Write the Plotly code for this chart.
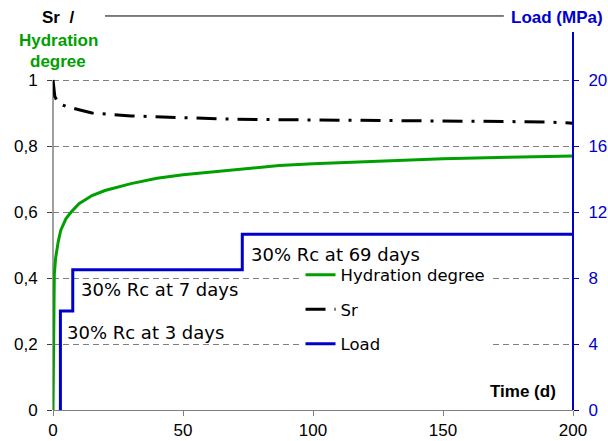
import plotly.graph_objects as go

# Time axis (days)
hyd_t = [0, 0.25, 0.5, 1, 2, 3, 5, 7, 10, 15, 20, 30, 40, 50, 65, 87, 100, 125, 150, 175, 200]
hyd_v = [0, 0.33, 0.41, 0.46, 0.51, 0.545, 0.58, 0.6, 0.625, 0.65, 0.665, 0.686, 0.702,
         0.713, 0.725, 0.741, 0.746, 0.754, 0.761, 0.766, 0.770]

sr_t = [0, 0.3, 0.7, 2, 5, 10, 15, 30, 50, 70, 100, 150, 190, 200]
sr_v = [1.0, 0.97, 0.95, 0.93, 0.92, 0.91, 0.90, 0.891, 0.885, 0.881, 0.879, 0.875, 0.873, 0.869]

# Applied load steps (MPa), each step at the given day
load_t = [2.85, 7.6, 72.8, 200]
load_v = [0, 6.0, 8.5, 10.65]

load_labels = ["30% Rc at 3 days", "30% Rc at 7 days", "30% Rc at 69 days"]
load_label_pos = [(4.8, 4.7), (9.9, 7.3), (75.4, 9.44)]

x_ticks = [0, 50, 100, 150, 200]
left_ticks = [0, 0.2, 0.4, 0.6, 0.8, 1.0]
right_ticks = [0, 4, 8, 12, 16, 20]

GREEN = "#00a000"
BLUE = "#0000cc"
GRAY = "#808080"

fig = go.Figure()

fig.add_trace(go.Scatter(
    x=hyd_t, y=hyd_v, mode="lines", name="Hydration degree",
    line=dict(color=GREEN, width=3), legendgroup="a", legendrank=1))
fig.add_trace(go.Scatter(
    x=sr_t, y=sr_v, mode="lines", name="Sr",
    line=dict(color="black", width=3, dash="20px,9px,3px,9px"),
    legendgroup="b", legendrank=2))
fig.add_trace(go.Scatter(
    x=load_t, y=load_v, mode="lines", name="Load", yaxis="y2",
    line=dict(color=BLUE, width=3, shape="vh"), legendgroup="c", legendrank=3))

annotations = []
for txt, (ax, ay) in zip(load_labels, load_label_pos):
    annotations.append(dict(
        x=ax, y=ay, xref="x", yref="y2", text=txt, showarrow=False,
        xanchor="left", yanchor="middle",
        font=dict(family="DejaVu Sans", size=18, color="black")))

title_font = dict(family="Liberation Sans", size=17)
annotations += [
    dict(x=0.0102, y=0.99, xref="paper", yref="paper", text="<b>Sr&nbsp;&nbsp;/</b>",
         showarrow=False, xanchor="center", yanchor="middle",
         font=dict(color="black", **title_font)),
    dict(x=0.0102, y=0.934, xref="paper", yref="paper", text="<b>Hydration</b>",
         showarrow=False, xanchor="center", yanchor="middle",
         font=dict(color=GREEN, **title_font)),
    dict(x=0.0102, y=0.8795, xref="paper", yref="paper", text="<b>degree</b>",
         showarrow=False, xanchor="center", yanchor="middle",
         font=dict(color=GREEN, **title_font)),
    dict(x=0.969, y=0.992, xref="paper", yref="paper", text="<b>Load (MPa)</b>",
         showarrow=False, xanchor="center", yanchor="middle",
         font=dict(color=BLUE, **title_font)),
    dict(x=0.904, y=0.046, xref="paper", yref="paper", text="<b>Time (d)</b>",
         showarrow=False, xanchor="center", yanchor="middle",
         font=dict(color="black", **title_font)),
]

shapes = [
    # top frame line between the axis titles
    dict(type="line", xref="paper", yref="paper", x0=0.1, x1=0.867, y0=0.995, y1=0.995,
         line=dict(color="black", width=1)),
    # left axis line (0 to 1)
    dict(type="line", xref="paper", yref="y", x0=0, x1=0, y0=0, y1=1.0,
         line=dict(color="#404040", width=1), layer="below"),
    # right axis line
    dict(type="line", xref="paper", yref="paper", x0=1, x1=1, y0=0, y1=0.9545,
         line=dict(color=BLUE, width=2)),
]

fig.update_layout(
    width=608, height=441,
    margin=dict(l=53, r=35, t=14, b=31, autoexpand=False),
    paper_bgcolor="white", plot_bgcolor="white",
    separators=", ",
    showlegend=True,
    legend=dict(x=0.476, y=0.385, xanchor="left", yanchor="top",
                font=dict(family="DejaVu Sans", size=16.5, color="black"),
                traceorder="grouped", tracegroupgap=10,
                bgcolor="white", borderwidth=0),
    xaxis=dict(range=[0, 200], tickvals=x_ticks, showgrid=False, zeroline=False,
               showline=True, linecolor=GRAY, linewidth=1, automargin=False,
               ticks="outside", ticklen=5, tickcolor=GRAY,
               tickfont=dict(family="Liberation Sans", size=17, color="black")),
    yaxis=dict(range=[0, 1.2], tickvals=left_ticks, showgrid=True, gridcolor=GRAY,
               gridwidth=1, griddash="6px,4px", zeroline=False, showline=False,
               ticks="outside", ticklen=5, tickcolor="#404040", automargin=False,
               ticklabelstandoff=6,
               tickfont=dict(family="Liberation Sans", size=17, color="black")),
    yaxis2=dict(range=[0, 24], tickvals=right_ticks, overlaying="y", side="right",
                showgrid=False, zeroline=False, showline=False, automargin=False,
                ticks="outside", ticklen=5, tickcolor=BLUE,
                ticklabelstandoff=6,
                tickfont=dict(family="Liberation Sans", size=17, color=BLUE)),
    annotations=annotations,
    shapes=shapes,
)

fig.write_html("out.html")
